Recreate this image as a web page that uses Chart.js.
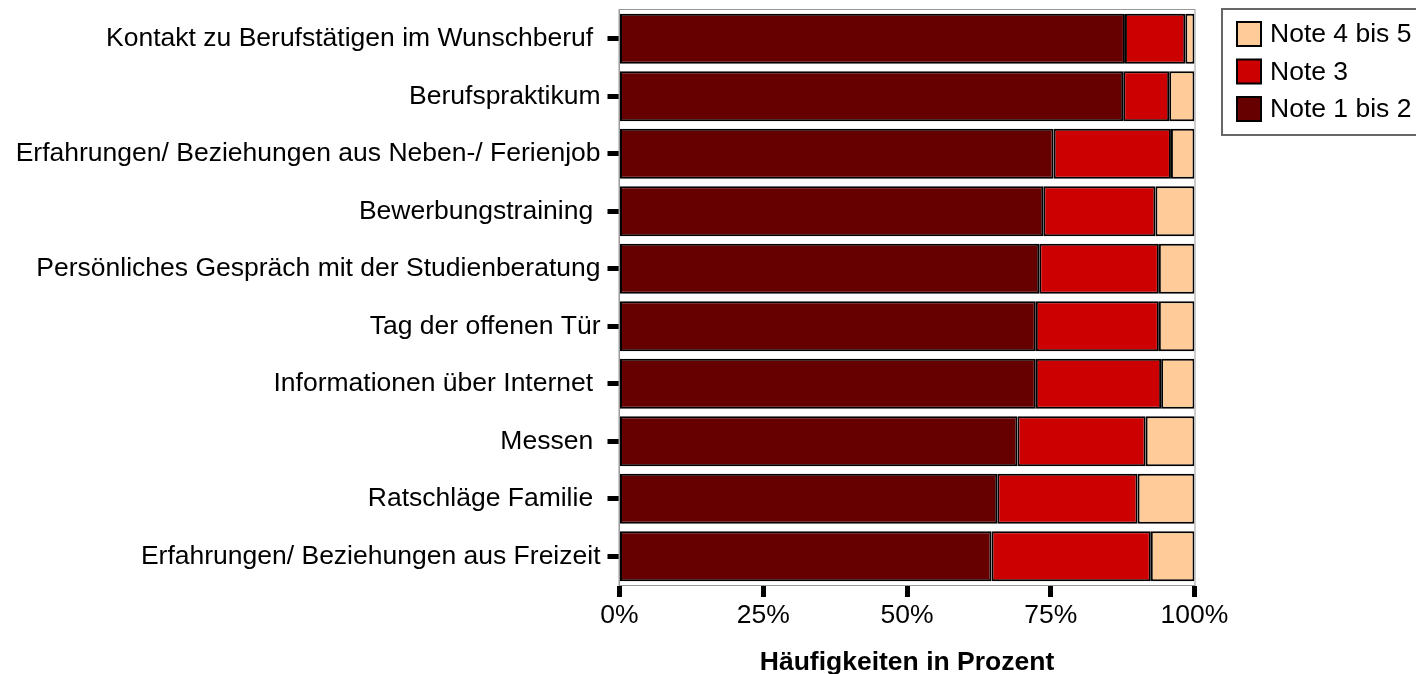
<!DOCTYPE html>
<html>
<head>
<meta charset="utf-8">
<script src="https://cdn.jsdelivr.net/npm/chart.js@4"></script>
<style>
  html, body { margin: 0; padding: 0; background: #fff; }
  #wrap { width: 1416px; height: 674px; position: relative; }
</style>
</head>
<body>
<div id="wrap"><canvas id="chart"></canvas></div>
<script>
const categories = [
  "Kontakt zu Berufstätigen im Wunschberuf ",
  "Berufspraktikum",
  "Erfahrungen/ Beziehungen aus Neben-/ Ferienjob",
  "Bewerbungstraining ",
  "Persönliches Gespräch mit der Studienberatung",
  "Tag der offenen Tür",
  "Informationen über Internet ",
  "Messen ",
  "Ratschläge Familie ",
  "Erfahrungen/ Beziehungen aus Freizeit"
];

const note12 = [87.9, 87.6, 75.5, 73.7, 73.0, 72.4, 72.4, 69.2, 65.7, 64.7];
const note3 = [10.5, 8.0, 20.4, 19.5, 20.8, 21.4, 21.8, 22.3, 24.4, 27.7];
const note45 = [1.6, 4.4, 4.1, 6.8, 6.2, 6.2, 5.8, 8.5, 9.9, 7.6];

const xTicks = [0, 25, 50, 75, 100];

const FONT = "'Liberation Sans', Arial, sans-serif";
const SIZE = 26.5;

// frame around the plot area
const frame = {
  id: "frame",
  afterDatasetsDraw(chart) {
    const { ctx, chartArea: a } = chart;
    ctx.save();
    ctx.strokeStyle = "#999";
    ctx.lineWidth = 1;
    ctx.strokeRect(a.left - 0.5, a.top - 0.5, a.right - a.left + 1, a.bottom - a.top + 1);
    ctx.restore();
  }
};

// legend box at top right, items in reverse order
const boxLegend = {
  id: "boxLegend",
  afterDraw(chart) {
    const ctx = chart.ctx;
    const sets = chart.data.datasets.slice().reverse();
    ctx.save();
    ctx.strokeStyle = "#666";
    ctx.lineWidth = 2;
    ctx.strokeRect(1222, 9, 220, 126);
    ctx.font = SIZE + "px " + FONT;
    ctx.textBaseline = "middle";
    sets.forEach((ds, i) => {
      const cy = 34 + i * 37.5;
      ctx.fillStyle = ds.backgroundColor;
      ctx.fillRect(1237, cy - 12, 24, 24);
      ctx.strokeStyle = "#000";
      ctx.lineWidth = 2;
      ctx.strokeRect(1237, cy - 12, 24, 24);
      ctx.fillStyle = "#000";
      ctx.fillText(ds.label, 1270, cy + 1);
    });
    ctx.restore();
  }
};

new Chart(document.getElementById("chart"), {
  type: "bar",
  data: {
    labels: categories,
    datasets: [
      { label: "Note 1 bis 2", data: note12, backgroundColor: "#660000" },
      { label: "Note 3", data: note3, backgroundColor: "#cc0000" },
      { label: "Note 4 bis 5", data: note45, backgroundColor: "#ffcc99" }
    ].map((d) => ({
      ...d,
      borderColor: "#000",
      borderWidth: 2,
      borderSkipped: false,
      categoryPercentage: 1,
      barPercentage: 0.87
    }))
  },
  options: {
    indexAxis: "y",
    responsive: true,
    maintainAspectRatio: false,
    animation: false,
    layout: { padding: { left: 0, right: 221.5, top: 10, bottom: 0 } },
    scales: {
      x: {
        stacked: true,
        min: 0,
        max: 100,
        afterBuildTicks: (s) => { s.ticks = xTicks.map((v) => ({ value: v })); },
        afterFit: (s) => { s.height = 89; s.paddingLeft = 0; s.paddingRight = 0; },
        ticks: {
          color: "#000",
          font: { family: FONT, size: SIZE },
          padding: 3,
          maxRotation: 0,
          callback: (v) => v + "%"
        },
        grid: {
          drawOnChartArea: false,
          drawTicks: true,
          tickLength: 12,
          tickWidth: 5,
          tickColor: "#000"
        },
        border: { display: true, color: "#999", width: 1 },
        title: {
          display: true,
          text: "Häufigkeiten in Prozent",
          color: "#000",
          font: { family: FONT, size: SIZE, weight: "bold" },
          padding: { top: 0, bottom: -5 }
        }
      },
      y: {
        stacked: true,
        afterFit: (s) => { s.width = 619.5; s.paddingTop = 0; s.paddingBottom = 0; },
        ticks: {
          color: "#000",
          font: { family: FONT, size: SIZE },
          padding: 7,
          autoSkip: false
        },
        grid: {
          offset: false,
          drawOnChartArea: false,
          drawTicks: true,
          tickLength: 12,
          tickWidth: 5,
          tickColor: "#000"
        },
        border: { display: true, color: "#999", width: 1 }
      }
    },
    plugins: {
      legend: { display: false },
      tooltip: { enabled: false }
    }
  },
  plugins: [frame, boxLegend]
});
</script>
</body>
</html>
